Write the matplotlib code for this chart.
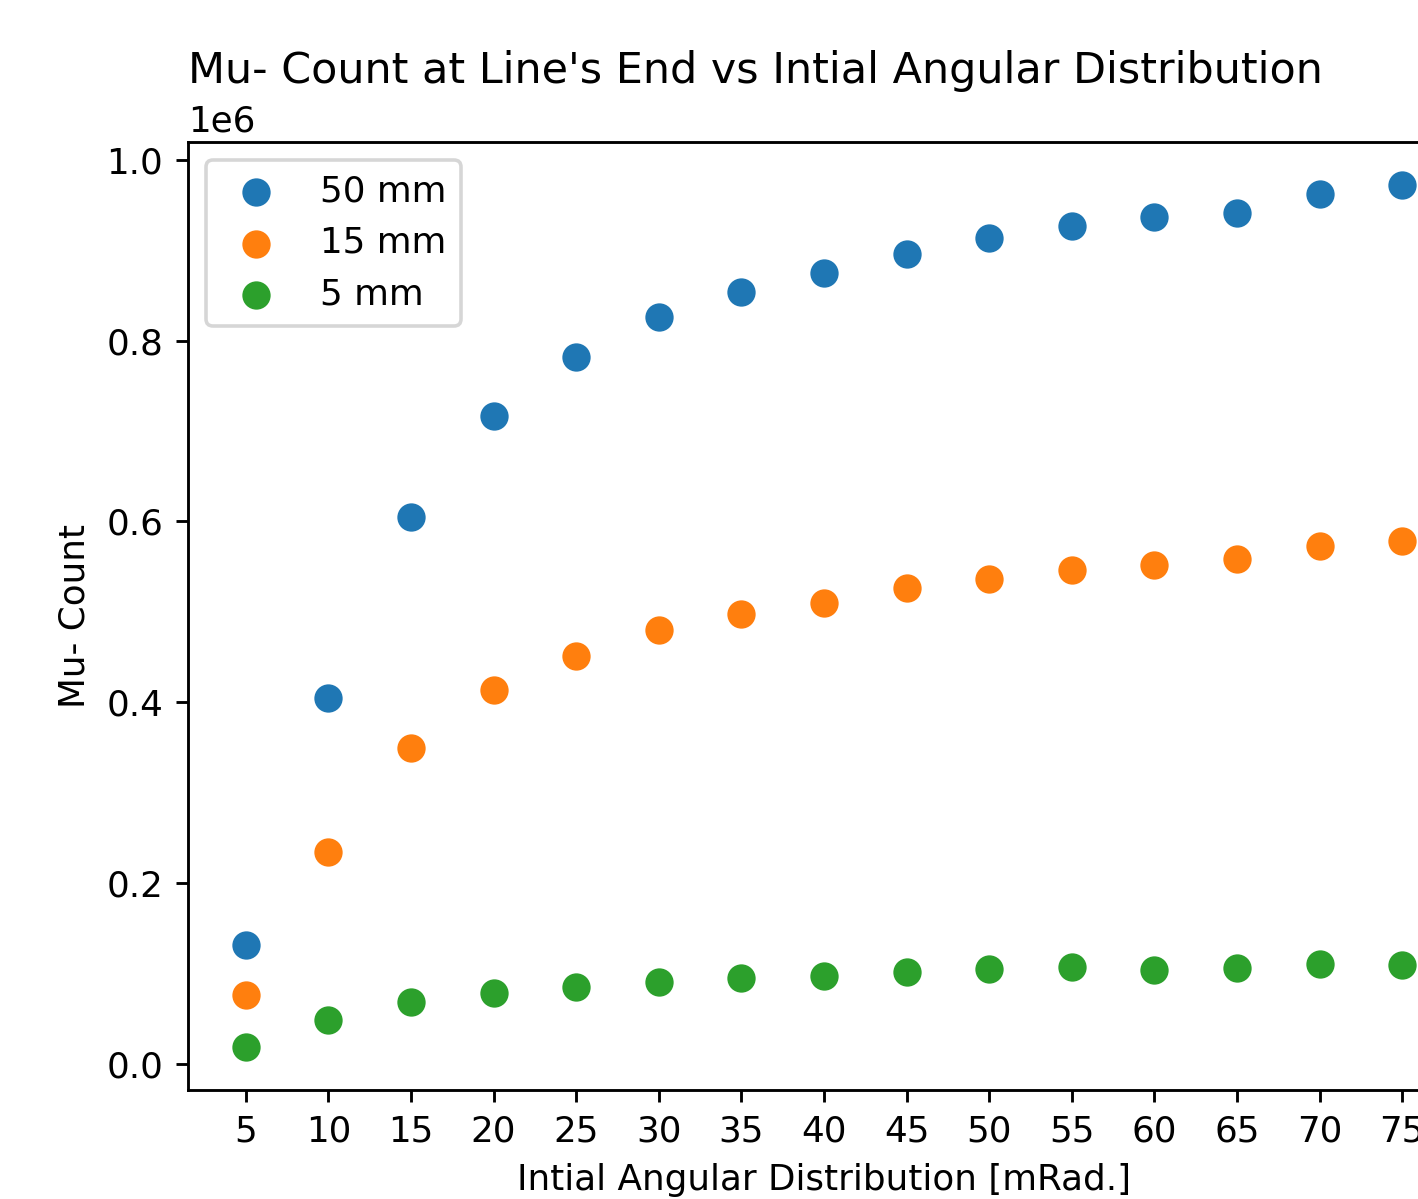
import matplotlib
matplotlib.use("Agg")
import matplotlib.pyplot as plt

angles = [5, 10, 15, 20, 25, 30, 35, 40, 45, 50, 55, 60, 65, 70, 75]
count_50mm = [0.1316, 0.405, 0.605, 0.717, 0.782, 0.826, 0.854, 0.875, 0.896, 0.914, 0.927, 0.937, 0.941, 0.962, 0.972]
count_15mm = [0.0763, 0.2345, 0.3496, 0.4137, 0.4513, 0.480, 0.4978, 0.510, 0.5265, 0.5365, 0.5465, 0.552, 0.5586, 0.573, 0.5785]
count_5mm = [0.0188, 0.0487, 0.0686, 0.0785, 0.0852, 0.0907, 0.0951, 0.0973, 0.1018, 0.1051, 0.1073, 0.104, 0.1062, 0.1106, 0.1095]
labels = ["50 mm", "15 mm", "5 mm"]

DPI = 257
scale = 1e6
fig = plt.figure(figsize=(1418/DPI, 1199/DPI), dpi=DPI)
ax = fig.add_axes([188/1418, 109/1199, (1460-188)/1418, (1090-142)/1199])
for vals, lab in zip([count_50mm, count_15mm, count_5mm], labels):
    ax.scatter(angles, [v*scale for v in vals], s=48, label=lab)
ax.set_xticks(angles)
ax.set_title("Mu- Count at Line's End vs Intial Angular Distribution", loc="left")
ax.set_xlabel("Intial Angular Distribution [mRad.]")
ax.set_ylabel("Mu- Count")
ax.legend(loc="upper left")
fig.savefig("out.png", dpi=DPI)
